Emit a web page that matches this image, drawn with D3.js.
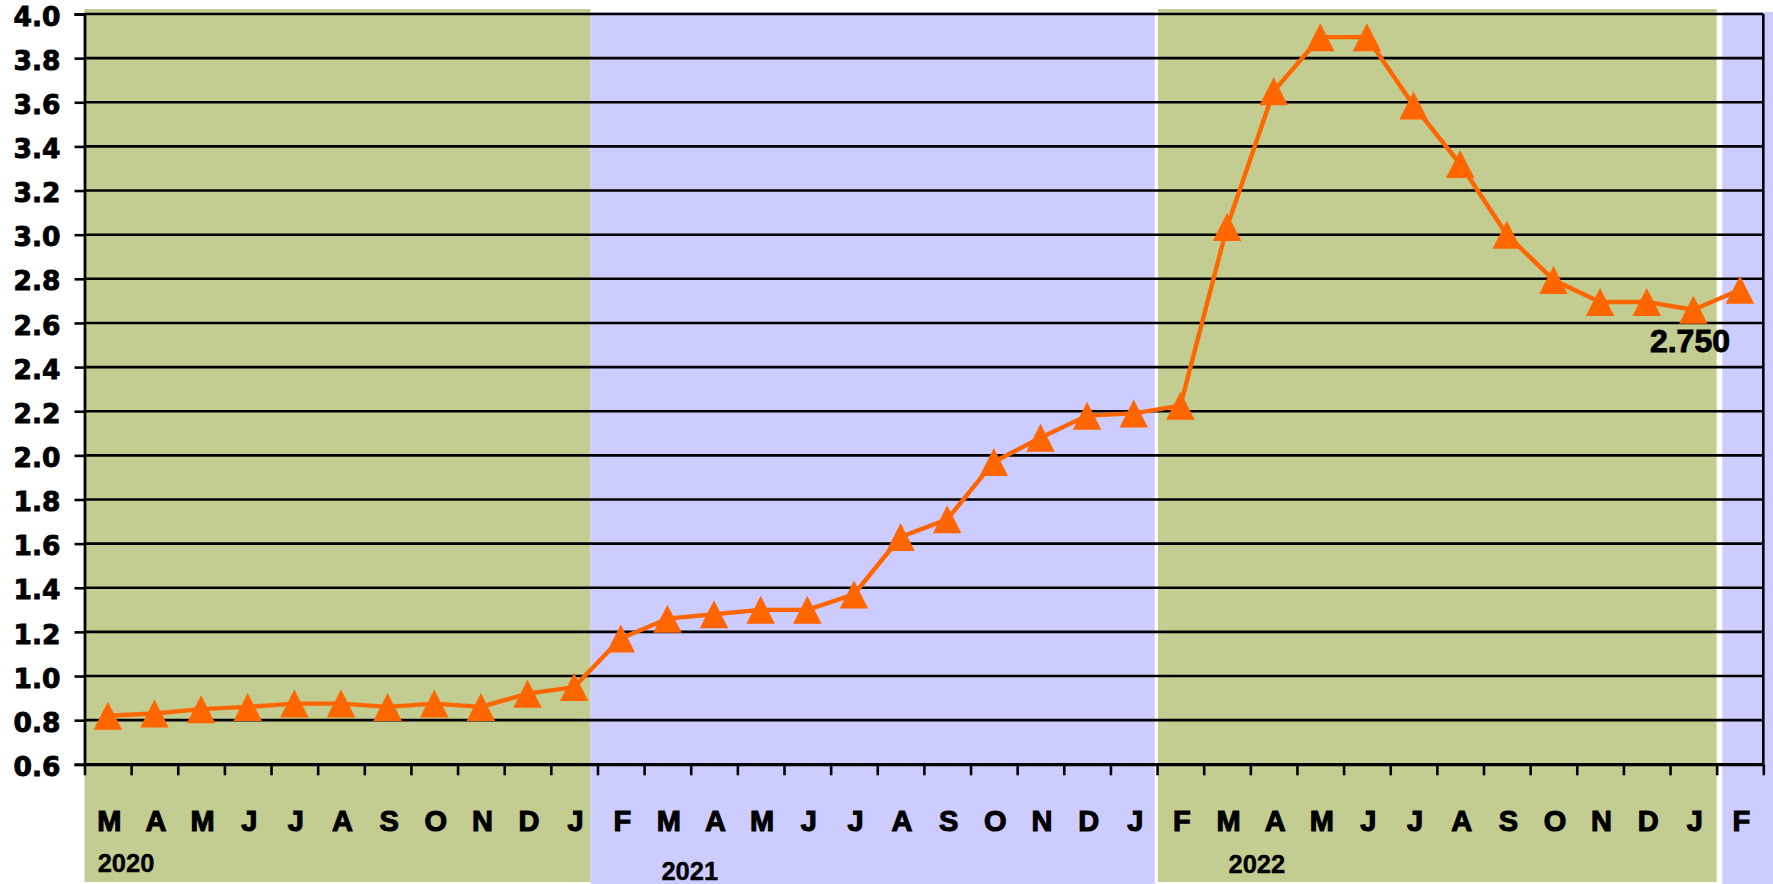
<!DOCTYPE html>
<html>
<head>
<meta charset="utf-8">
<script src="https://cdn.jsdelivr.net/npm/d3@7"></script>
<style>
  html, body { margin: 0; padding: 0; background: #ffffff; }
  svg { display: block; }
</style>
</head>
<body>
<svg id="chart" width="1773" height="884"></svg>
<script>
// ---------------- data ----------------
const months = ["M","A","M","J","J","A","S","O","N","D","J",
                "F","M","A","M","J","J","A","S","O","N","D","J",
                "F","M","A","M","J","J","A","S","O","N","D","J",
                "F"];
const rates2020 = [0.82, 0.83, 0.85, 0.86, 0.875, 0.875, 0.86, 0.875, 0.86, 0.92, 0.95];
const rates2021 = [1.17, 1.26, 1.28, 1.30, 1.30, 1.37, 1.63, 1.71, 1.97, 2.08, 2.18, 2.19];
const rates2022 = [2.225, 3.035, 3.65, 3.895, 3.895, 3.585, 3.32, 3.00, 2.795, 2.695, 2.695, 2.66, 2.75];
const rates = rates2020.concat(rates2021, rates2022);
const yTicks = [0.6, 0.8, 1.0, 1.2, 1.4, 1.6, 1.8, 2.0, 2.2, 2.4, 2.6, 2.8, 3.0, 3.2, 3.4, 3.6, 3.8, 4.0];
const years = ["2020", "2021", "2022"];
const lastLabel = "2.750";

// ---------------- layout ----------------
const W = 1773, H = 884;
const plotLeft = 84.5, plotRight = 1763.3, plotTop = 14, plotBottom = 764.3;
// background year bands, in category units
const bandFrom = [0, 10.85, 23.02, 35.12];
const bandTo   = [10.85, 22.95, 35.0, 36.3];
const bandTop  = [9, 12, 9, 12];
const bandBottom = [882, 884, 882, 884];
const bandFill = ["#C3CC91", "#CCCCFF", "#C3CC91", "#CCCCFF"];
const yearAt = [0.89, 12.98, 25.14];
const yearBase = [871.5, 880, 872.5];

const svg = d3.select("#chart");
const x = d3.scaleLinear().domain([0, months.length]).range([plotLeft, plotRight]);
const y = d3.scaleLinear().domain([0.6, 4.0]).range([plotBottom, plotTop]);

// bands
svg.append("g").selectAll("rect").data(bandFrom).join("rect")
  .attr("x", (d, i) => x(d))
  .attr("width", (d, i) => x(bandTo[i]) - x(d))
  .attr("y", (d, i) => bandTop[i])
  .attr("height", (d, i) => bandBottom[i] - bandTop[i])
  .attr("fill", (d, i) => bandFill[i]);

// gridlines
svg.append("g").selectAll("line").data(yTicks).join("line")
  .attr("x1", plotLeft).attr("x2", plotRight)
  .attr("y1", d => y(d)).attr("y2", d => y(d))
  .attr("stroke", "#000").attr("stroke-width", 2.6);

// right border
svg.append("line")
  .attr("x1", plotRight).attr("x2", plotRight)
  .attr("y1", y(4.0)).attr("y2", y(0.6))
  .attr("stroke", "#000").attr("stroke-width", 2.6);

// y axis
const yAxis = svg.append("g")
  .attr("transform", `translate(${plotLeft},0)`)
  .call(d3.axisLeft(y).tickValues(yTicks).tickFormat(d3.format(".1f")).tickSize(10).tickPadding(14));
yAxis.select(".domain").attr("stroke", "#000").attr("stroke-width", 2.8);
yAxis.selectAll(".tick line").attr("stroke", "#000").attr("stroke-width", 2.6);
yAxis.selectAll(".tick text")
  .attr("fill", "#000")
  .attr("stroke", "#000")
  .attr("stroke-width", 0.9)
  .attr("dy", "0.42em")
  .style("font-family", "'DejaVu Sans', Verdana, sans-serif")
  .style("font-weight", "700")
  .style("font-size", "26.5px");

// x axis (ticks at category boundaries)
const xAxis = svg.append("g")
  .attr("transform", `translate(0,${plotBottom})`)
  .call(d3.axisBottom(x).tickValues(d3.range(months.length + 1)).tickFormat("").tickSize(11).tickSizeOuter(0));
xAxis.select(".domain").attr("stroke", "#000").attr("stroke-width", 2.8);
xAxis.selectAll(".tick line").attr("stroke", "#000").attr("stroke-width", 2.6);

// month labels
svg.append("g").selectAll("text").data(months).join("text")
  .attr("x", (d, i) => x(i + 0.5) + 1.5)
  .attr("y", 831)
  .attr("text-anchor", "middle")
  .style("font-family", "'Liberation Sans', Arial, sans-serif")
  .style("font-weight", "700")
  .style("font-size", "29px")
  .attr("fill", "#000")
  .attr("stroke", "#000")
  .attr("stroke-width", 1.1)
  .text(d => d);

// year labels
svg.append("g").selectAll("text").data(years).join("text")
  .attr("x", (d, i) => x(yearAt[i]))
  .attr("y", (d, i) => yearBase[i])
  .attr("text-anchor", "middle")
  .style("font-family", "'Liberation Sans', Arial, sans-serif")
  .style("font-weight", "700")
  .style("font-size", "25.5px")
  .attr("fill", "#000")
  .attr("stroke", "#000")
  .attr("stroke-width", 0.4)
  .text(d => d);

// line
const line = d3.line().x((d, i) => x(i + 0.5)).y(d => y(d));
svg.append("path").datum(rates)
  .attr("d", line)
  .attr("fill", "none")
  .attr("stroke", "#FF6600")
  .attr("stroke-width", 4.4)
  .attr("stroke-linejoin", "round");

// triangle markers
const mw = 28.5, mh = 28;
const tri = `M0,${-mh/2}L${mw/2},${mh/2}L${-mw/2},${mh/2}Z`;
svg.append("g").selectAll("path").data(rates).join("path")
  .attr("transform", (d, i) => `translate(${x(i + 0.5)},${y(d)})`)
  .attr("d", tri)
  .attr("fill", "#FF6600");

// last value label
const li = rates.length - 1;
svg.append("text")
  .attr("x", x(li + 0.5) - 10)
  .attr("y", y(rates[li]) + 62)
  .attr("text-anchor", "end")
  .style("font-family", "'Liberation Sans', Arial, sans-serif")
  .style("font-weight", "700")
  .style("font-size", "32px")
  .attr("fill", "#000")
  .attr("stroke", "#000")
  .attr("stroke-width", 0.9)
  .text(lastLabel);
</script>
</body>
</html>
